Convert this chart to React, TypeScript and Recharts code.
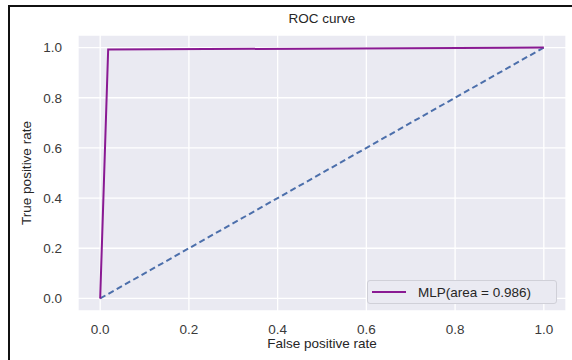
import { CartesianGrid, Line, LineChart, XAxis, YAxis } from "recharts";

const ticks = [0, 0.2, 0.4, 0.6, 0.8, 1.0];
const rocFpr = [0, 0.018, 1];
const rocTpr = [0, 0.992, 1];
const chanceFpr = [0, 1];
const chanceTpr = [0, 1];
const aucLabel = "MLP(area = 0.986)";

const rocData = rocFpr.map((x, i) => ({ x, y: rocTpr[i] }));
const chanceData = chanceFpr.map((x, i) => ({ x, y: chanceTpr[i] }));

const FONT = "'Liberation Sans', Arial, sans-serif";
const PURPLE = "#8a1a93";
const BLUE = "#4c6fab";

// matplotlib-style legend box, lower right of the axes
function RocLegend() {
  return (
    <div
      style={{
        position: "absolute",
        left: 367,
        top: 280,
        display: "flex",
        alignItems: "center",
        background: "#EAEAF2",
        border: "1px solid #d0d0d8",
        borderRadius: 3,
        width: 190,
        height: 24,
        boxSizing: "border-box",
        fontFamily: FONT,
        fontSize: 13.5,
        color: "#262626",
      }}
    >
      <svg width={46} height={10} style={{ marginLeft: 4 }}>
        <line x1={0} y1={5} x2={34} y2={5} stroke={PURPLE} strokeWidth={2} />
      </svg>
      <span>{aucLabel}</span>
    </div>
  );
}

export default function App() {
  const tick = { fill: "#3a3a3a", fontSize: 13.5, fontFamily: FONT };
  const label = { fontFamily: FONT, fontSize: 13.5, color: "#262626" };
  return (
    <div style={{ position: "absolute", left: 0, top: 0, width: 572, height: 360, background: "#fff" }}>
      <LineChart
        width={572}
        height={360}
        margin={{ top: 35, right: 6, bottom: 19, left: 0 }}
        style={{ position: "absolute", left: 0, top: 0 }}
      >
        <CartesianGrid fill="#EAEAF2" stroke="#ffffff" strokeWidth={1.3} />
        <XAxis
          dataKey="x"
          type="number"
          height={30}
          domain={[-0.05, 1.05]}
          ticks={ticks}
          tickFormatter={(v: number) => v.toFixed(1)}
          axisLine={false}
          tickLine={false}
          tickSize={6}
          tickMargin={7}
          tick={tick}
          allowDataOverflow
        />
        <YAxis
          dataKey="y"
          type="number"
          width={78}
          domain={[-0.05, 1.05]}
          ticks={ticks}
          tickFormatter={(v: number) => v.toFixed(1)}
          axisLine={false}
          tickLine={false}
          tickSize={6}
          tickMargin={10}
          tick={tick}
          allowDataOverflow
        />
        <Line
          data={chanceData}
          dataKey="y"
          stroke={BLUE}
          strokeWidth={2}
          strokeDasharray="6 3.5"
          dot={false}
          isAnimationActive={false}
        />
        <Line
          data={rocData}
          dataKey="y"
          stroke={PURPLE}
          strokeWidth={2}
          dot={false}
          isAnimationActive={false}
        />
      </LineChart>
      <div
        style={{
          position: "absolute",
          left: 8,
          top: 5,
          width: 564,
          height: 355,
          borderTop: "2px solid #111",
          borderLeft: "2px solid #111",
          pointerEvents: "none",
        }}
      />
      <div style={{ ...label, position: "absolute", left: 78, width: 488, top: 11, textAlign: "center" }}>
        ROC curve
      </div>
      <div style={{ ...label, position: "absolute", left: 78, width: 488, top: 336, textAlign: "center" }}>
        False positive rate
      </div>
      <div
        style={{
          ...label,
          position: "absolute",
          left: 26,
          top: 173,
          transform: "translate(-50%, -50%) rotate(-90deg)",
          whiteSpace: "nowrap",
        }}
      >
        True positive rate
      </div>
      <RocLegend />
    </div>
  );
}
